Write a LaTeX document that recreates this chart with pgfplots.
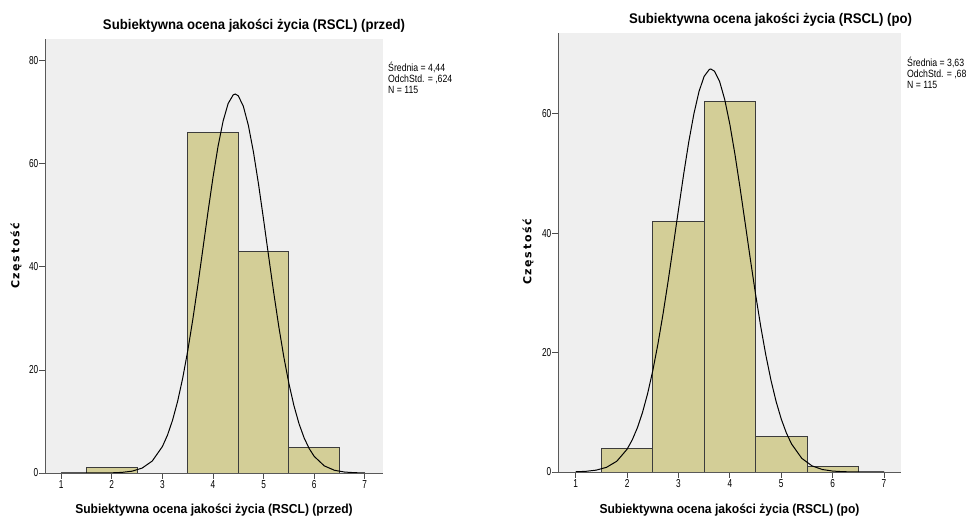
\documentclass[border=0pt]{standalone}
\usepackage{fontspec}
\setmainfont{Liberation Sans}
\newfontfamily\titlefont{Liberation Sans}[FakeStretch=0.94]
\newfontfamily\labfont{Liberation Sans}[FakeStretch=0.93]
\newfontfamily\tickfont{Liberation Sans}[FakeStretch=0.72]
\newfontfamily\statfont{Liberation Sans}[FakeStretch=0.83]
\newfontfamily\yfont{DejaVu Sans}[LetterSpace=15]
\usepackage{pgfplots}
\pgfplotsset{compat=1.18}
\definecolor{bg}{HTML}{EFEFEF}
\definecolor{barfill}{HTML}{D3CE97}
\definecolor{bardraw}{HTML}{3C3C3C}
\pgfplotsset{spss/.style={
  scale only axis,
  axis lines=left,
  axis line style={-, draw=black!65, line width=0.9pt},
  x axis line style={shorten <=-5pt},
  axis background/.style={fill=bg},
  tick align=outside,
  major tick length=6pt,
  tick style={draw=black!70, line width=0.8pt},
  xtick={1,2,3,4,5,6,7},
  /pgf/number format/assume math mode=true,
  ticklabel style={font=\tickfont\fontsize{11.5}{12}\selectfont, text=black},
  yticklabel style={inner sep=0.5pt},
  xticklabel style={inner sep=1pt},
  ymin=0,
}}
\begin{document}
\begin{tikzpicture}[x=1pt,y=1pt]
\useasboundingbox (0,0) rectangle (968,518);
% ---------- left: przed ----------
\begin{axis}[spss, at={(45pt,45pt)}, anchor=south west, width=338pt, height=434pt,
  xmin=0.68, xmax=7.36, ymax=84.2, ytick={0,20,40,60,80}]
\addplot[ybar, bar width=1, bar shift=0pt, fill=barfill, draw=bardraw, line width=0.8pt]
  coordinates {(2,1) (4,66) (5,43) (6,5)};
\addplot[black, line width=1pt, mark=none] coordinates {
(1.0,0.0) (1.5,0.0) (1.8,0.005) (2.0,0.035) (2.2,0.117) (2.4,0.351) (2.6,0.952) (2.8,2.325)
(3.0,5.128) (3.1,7.330) (3.2,10.207) (3.3,13.858) (3.4,18.33) (3.5,23.64) (3.6,29.71)
(3.7,36.39) (3.8,43.45) (3.9,50.56) (4.0,57.34) (4.1,63.38) (4.2,68.28) (4.3,71.69)
(4.4,73.37) (4.44,73.52) (4.5,73.18) (4.6,71.14) (4.7,67.41) (4.8,62.25) (4.9,56.03)
(5.0,49.15) (5.1,42.02) (5.2,35.02) (5.3,28.44) (5.4,22.51) (5.5,17.37) (5.6,13.06)
(5.7,9.571) (5.8,6.837) (5.9,4.760) (6.0,3.230) (6.2,1.377) (6.4,0.530) (6.6,0.184)
(6.8,0.058) (7.0,0.016)};
\end{axis}
% ---------- right: po ----------
\begin{axis}[spss, at={(558pt,46pt)}, anchor=south west, width=343pt, height=439pt,
  xmin=0.656, xmax=7.33, ymax=73.5, ytick={0,20,40,60}]
\addplot[ybar, bar width=1, bar shift=0pt, fill=barfill, draw=bardraw, line width=0.8pt]
  coordinates {(2,4) (3,42) (4,62) (5,6) (6,1)};
\addplot[black, line width=1pt, mark=none] coordinates {
(1.0,0.038) (1.2,0.114) (1.4,0.312) (1.6,0.783) (1.8,1.805) (2.0,3.813) (2.1,5.367)
(2.2,7.393) (2.3,9.964) (2.4,13.14) (2.5,16.96) (2.6,21.42) (2.7,26.48) (2.8,32.03)
(2.9,37.92) (3.0,43.92) (3.1,49.80) (3.2,55.25) (3.3,59.97) (3.4,63.72) (3.5,66.25)
(3.6,67.40) (3.63,67.47) (3.7,67.11) (3.8,65.39) (3.9,62.36) (4.0,58.19) (4.1,53.13)
(4.2,47.48) (4.3,41.53) (4.4,35.54) (4.5,29.76) (4.6,24.39) (4.7,19.56) (4.8,15.36)
(4.9,11.79) (5.0,8.863) (5.1,6.521) (5.2,4.694) (5.4,2.280) (5.6,1.015) (5.8,0.415)
(6.0,0.155) (6.2,0.053) (6.4,0.017) (6.7,0.003) (7.0,0.0)};
\end{axis}
% ---------- texts ----------
\node[font=\titlefont\bfseries\fontsize{14}{16}\selectfont, inner sep=0] at (254,492.5)
  {Subiektywna ocena jakości życia (RSCL) (przed)};
\node[font=\titlefont\bfseries\fontsize{14}{16}\selectfont, inner sep=0] at (770.5,498)
  {Subiektywna ocena jakości życia (RSCL) (po)};
\node[font=\labfont\bfseries\fontsize{13}{15}\selectfont, inner sep=0] at (214,8)
  {Subiektywna ocena jakości życia (RSCL) (przed)};
\node[font=\labfont\bfseries\fontsize{13}{15}\selectfont, inner sep=0] at (729.5,8)
  {Subiektywna ocena jakości życia (RSCL) (po)};
\node[rotate=90, font=\yfont\bfseries\fontsize{11}{13}\selectfont, inner sep=0] at (16,262) {Częstość};
\node[rotate=90, font=\yfont\bfseries\fontsize{11}{13}\selectfont, inner sep=0] at (528,266) {Częstość};
\node[anchor=north west, align=left, inner sep=0, font=\statfont\fontsize{10.5}{11}\selectfont]
  at (388,456) {Średnia = 4,44\\OdchStd. = ,624\\N = 115};
\node[anchor=north west, align=left, inner sep=0, font=\statfont\fontsize{10.5}{11}\selectfont]
  at (907,461) {Średnia = 3,63\\OdchStd. = ,68\\N = 115};
\end{tikzpicture}
\end{document}
